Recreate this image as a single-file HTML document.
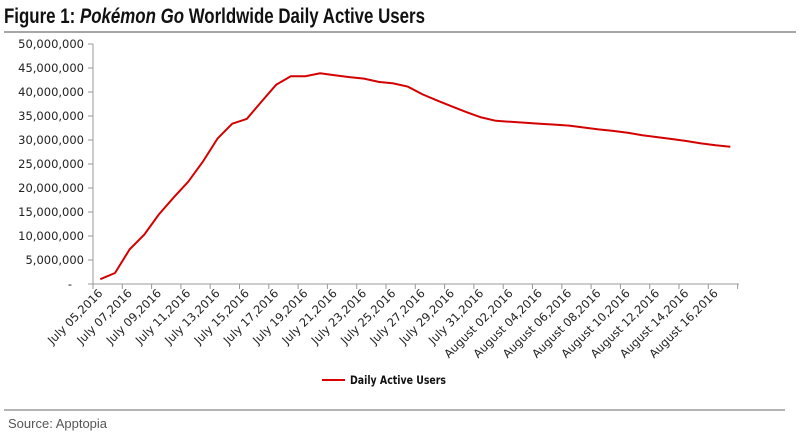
<!DOCTYPE html>
<html><head><meta charset="utf-8"><style>
body{margin:0;background:#fff;width:800px;height:436px;overflow:hidden}
svg{display:block}
</style></head><body>
<svg id="s" width="800" height="436" xmlns="http://www.w3.org/2000/svg" font-family="'Liberation Sans', sans-serif">
<text x="4" y="23" font-size="21" font-weight="bold" fill="#111" font-family="'Liberation Sans', sans-serif" textLength="421" lengthAdjust="spacingAndGlyphs">Figure 1: <tspan font-style="italic">Pokémon Go</tspan> Worldwide Daily Active Users</text>
<line x1="4" y1="32" x2="796" y2="32" stroke="#888" stroke-width="1.5"/>
<line x1="4" y1="410" x2="785" y2="410" stroke="#888" stroke-width="1.2"/>
<text x="8" y="428" font-size="13" fill="#555">Source: Apptopia</text>
<line x1="322" y1="380" x2="345" y2="380" stroke="#d00" stroke-width="2"/>
<text x="350" y="384" font-size="11.5" font-weight="bold" fill="#111" font-family="'DejaVu Sans', sans-serif" textLength="96" lengthAdjust="spacingAndGlyphs">Daily Active Users</text>
<g id="g"></g>
</svg>
<script>
var g=document.getElementById('g'),h='';
var x0=93,y0=284,w=14.65,py=4.8;
h+='<line x1="'+x0+'" y1="44" x2="'+x0+'" y2="'+y0+'" stroke="#999"/>';
h+='<line x1="'+x0+'" y1="'+y0+'" x2="739" y2="'+y0+'" stroke="#999"/>';
for(var i=0;i<=10;i++){var y=y0-i*24;h+='<line x1="88" y1="'+y+'" x2="'+x0+'" y2="'+y+'" stroke="#999"/>';
var t=i==0?'-':(i*5)+',000,000';
h+='<text x="'+(i==0?72:84)+'" y="'+(y+4)+'" font-size="11.5" fill="#222" text-anchor="end" font-family="\'DejaVu Sans\', sans-serif">'+t+'</text>';}
for(var i=0;i<=22;i++){var x=x0+i*2*w;h+='<line x1="'+x+'" y1="'+y0+'" x2="'+x+'" y2="'+(y0+5)+'" stroke="#999"/>';}
var d=[1,2.3,7.2,10.3,14.5,18,21.3,25.5,30.3,33.4,34.4,38,41.5,43.3,43.3,43.9,43.5,43.1,42.8,42.1,41.8,41.1,39.5,38.2,37,35.8,34.7,34,33.8,33.6,33.4,33.2,33,32.6,32.2,31.9,31.5,31,30.6,30.2,29.8,29.3,28.9,28.6];
var p=d.map(function(v,i){return (x0+w*(i+.5)).toFixed(1)+','+(y0-v*py).toFixed(1)}).join(' ');
h+='<polyline points="'+p+'" fill="none" stroke="#d40000" stroke-width="2"/>';
function pad(n){return n<10?'0'+n:''+n}
for(var i=0;i<44;i+=2){var day=5+i,lab;if(day<=31)lab='July '+pad(day)+',2016';else lab='August '+pad(day-31)+',2016';
var x=x0+w*(i+.5)+3,y=y0+10;
h+='<text transform="translate('+x+','+y+') rotate(-45)" font-size="11.5" fill="#222" text-anchor="end" font-family="\'DejaVu Sans\', sans-serif">'+lab+'</text>';}
g.innerHTML=h;
</script>
</body></html>
